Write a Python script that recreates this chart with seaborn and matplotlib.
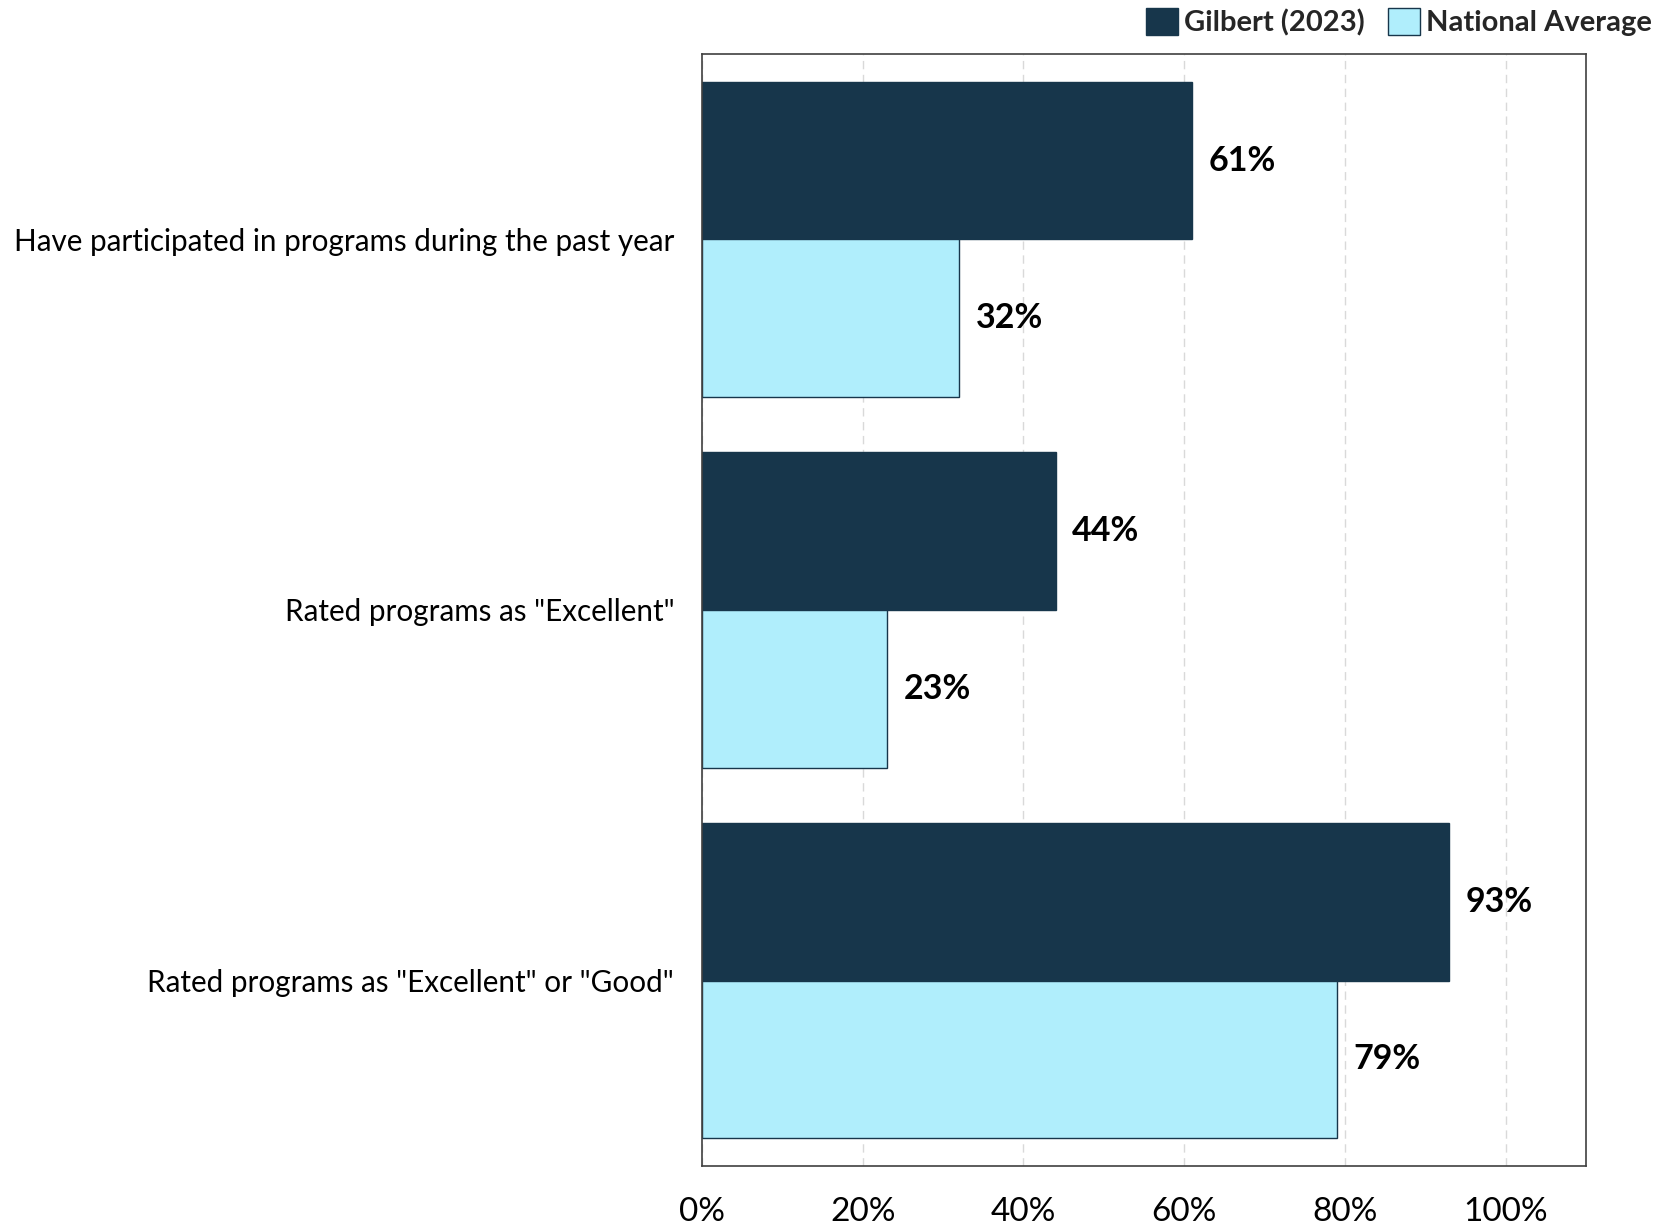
import matplotlib
matplotlib.use("Agg")
import matplotlib.pyplot as plt
import seaborn as sns
import pandas as pd

categories = [
    "Have participated in programs during the past year",
    'Rated programs as "Excellent"',
    'Rated programs as "Excellent" or "Good"',
]
series_names = ["Gilbert (2023)", "National Average"]
gilbert = [0.61, 0.44, 0.93]
national = [0.32, 0.23, 0.79]
x_ticks = [0, 0.2, 0.4, 0.6, 0.8, 1.0]
x_tick_labels = ["0%", "20%", "40%", "60%", "80%", "100%"]

rows = []
for c, g, n in zip(categories, gilbert, national):
    rows.append({"Category": c, "Series": series_names[0], "Value": g})
    rows.append({"Category": c, "Series": series_names[1], "Value": n})
df = pd.DataFrame(rows)

sns.set_theme(style="white")
plt.rcParams["font.family"] = ["Lato", "DejaVu Sans"]

fig = plt.figure(figsize=(16.63, 12.24), dpi=100)
ax = fig.add_axes([702 / 1663, 1 - 1166 / 1224, (1586 - 702) / 1663, (1166 - 54) / 1224])

palette = {series_names[0]: "#17364B", series_names[1]: "#B0EEFC"}
sns.barplot(data=df, y="Category", x="Value", hue="Series", orient="h",
            order=categories, hue_order=series_names, palette=palette,
            width=0.85, gap=0, saturation=1, edgecolor="#17364B",
            linewidth=1.0, ax=ax, legend=True)

ax.set_xlim(0, 1.1)
ax.set_ylim(2.5, -0.5)
ax.set_xticks(x_ticks)
ax.set_xticklabels(x_tick_labels)
ax.set_xlabel("")
ax.set_ylabel("")
ax.tick_params(axis="x", length=0, pad=22, labelsize=24, colors="black")
ax.tick_params(axis="y", length=0, pad=20, labelsize=21.3, colors="black")
for lbl in ax.get_xticklabels() + ax.get_yticklabels():
    lbl.set_color("black")

ax.grid(axis="x", color="#D9D9D9", linestyle=(0, (6, 4)), linewidth=1)
ax.set_axisbelow(True)
for s in ax.spines.values():
    s.set_visible(True)
    s.set_color("#404040")
    s.set_linewidth(1.2)

for container in ax.containers:
    ax.bar_label(container, labels=[f"{v*100:.0f}%" for v in container.datavalues],
                 padding=12, fontsize=24.5, fontweight="bold", color="black")

handles, labels = ax.get_legend_handles_labels()
ax.legend(handles, labels, loc="lower right", bbox_to_anchor=(1.094, 1.0),
          ncol=2, frameon=False, prop={"size": 21, "weight": "bold"},
          handlelength=1.1, handleheight=1.0, handletextpad=0.2,
          columnspacing=0.8, borderaxespad=0.2)

fig.savefig("out.png", dpi=100)
